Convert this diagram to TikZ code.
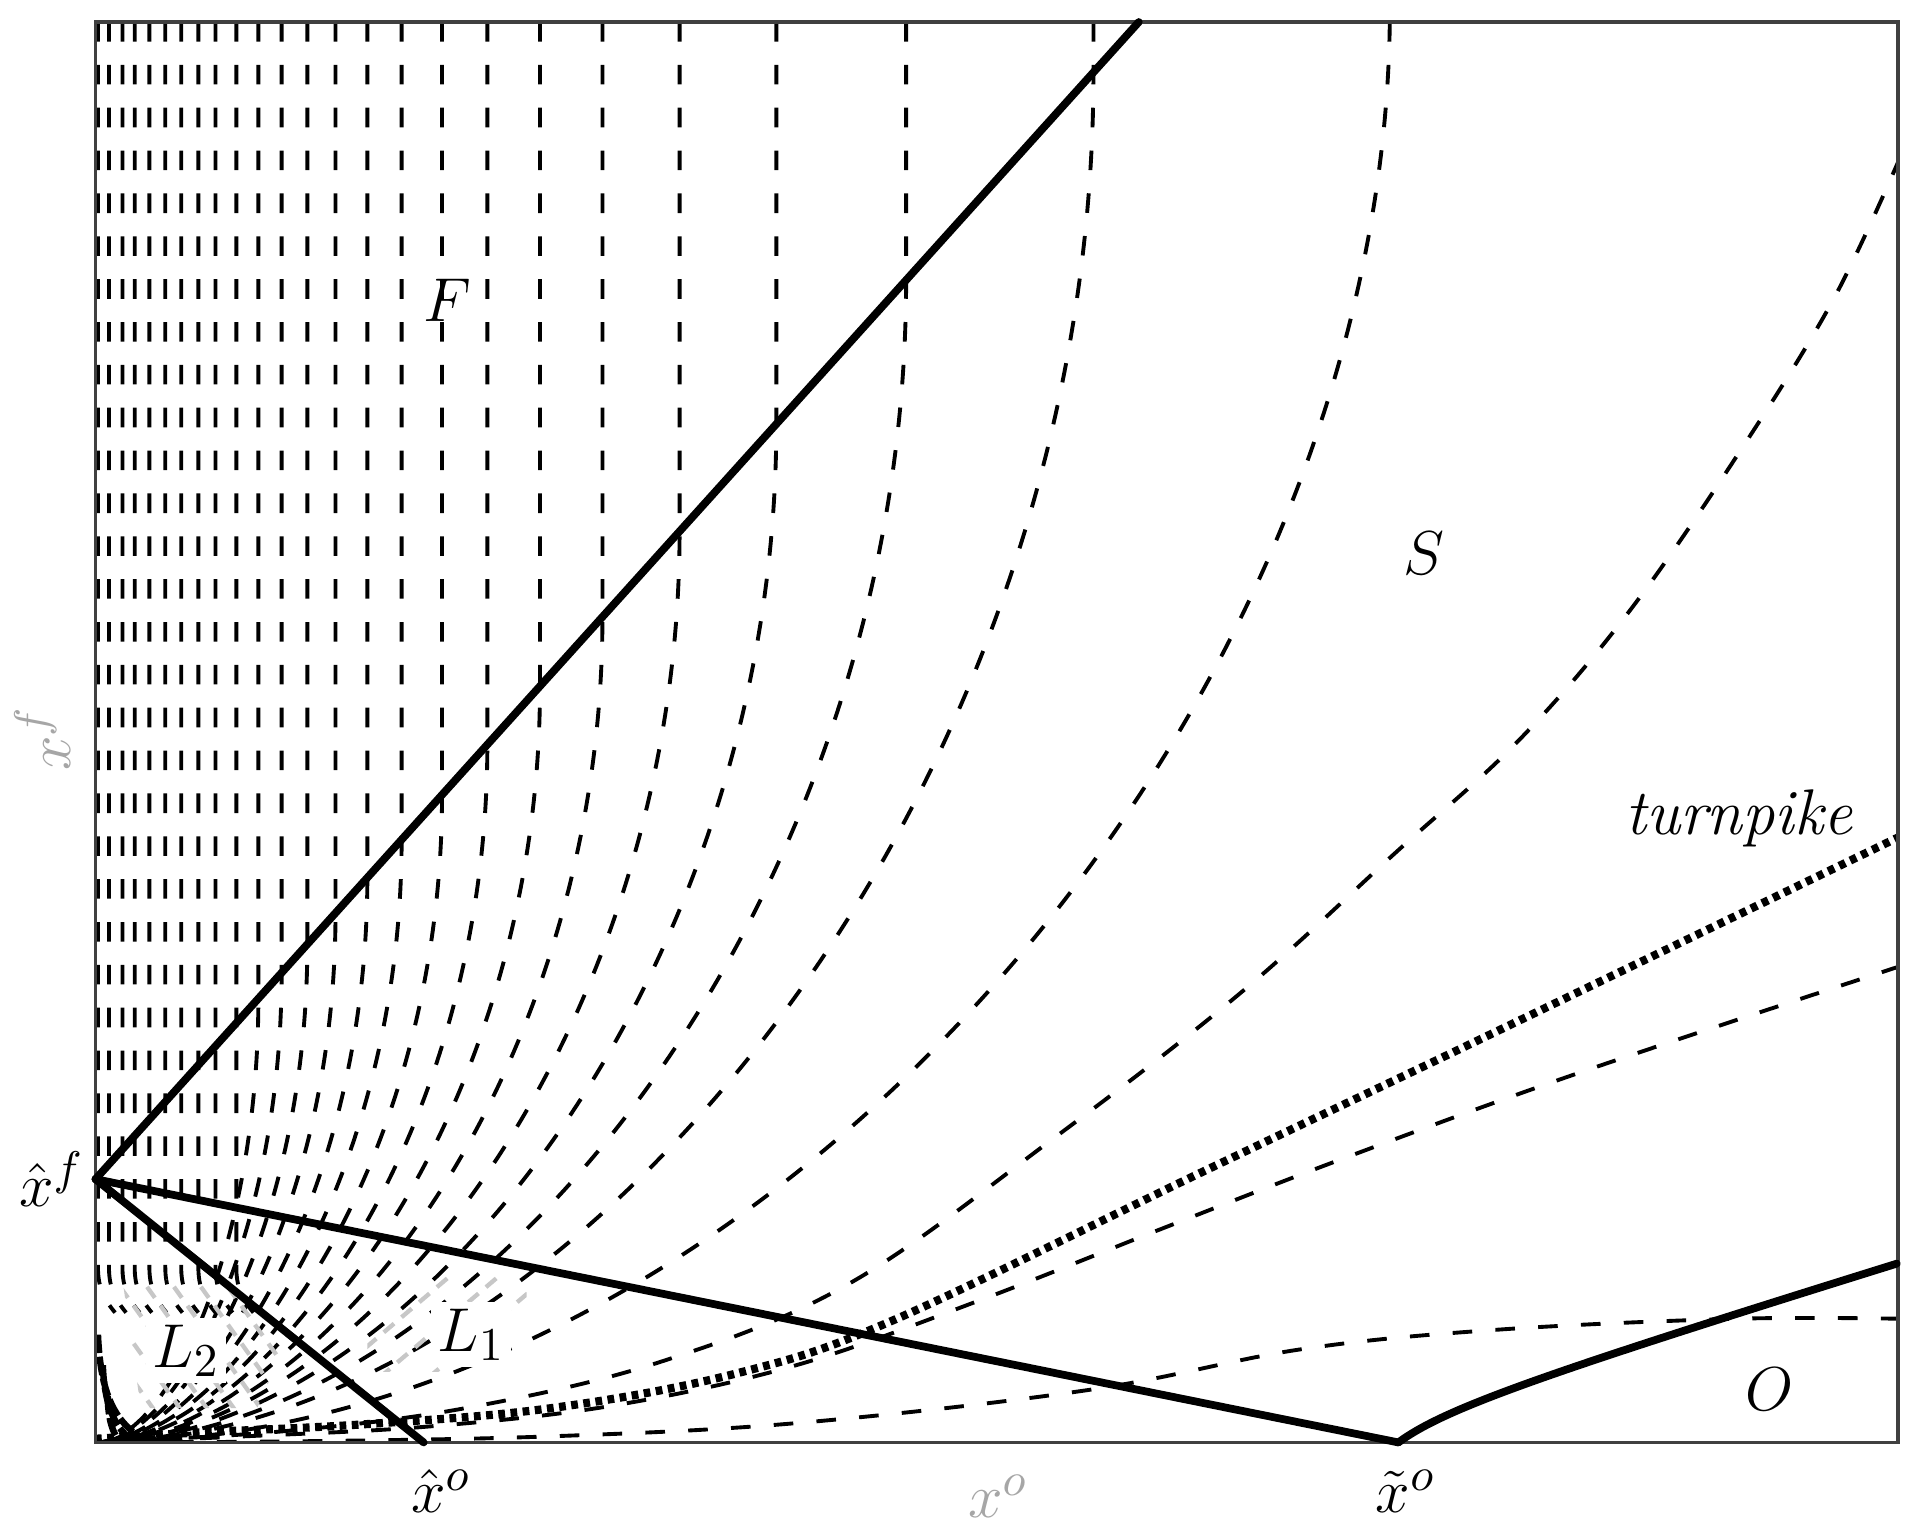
\documentclass[tikz,border=0pt]{standalone}
\usetikzlibrary{calc}
\begin{document}
\begin{tikzpicture}[x=0.1mm,y=-0.1mm,
  traj/.style={line width=0.9pt, dash pattern=on 1.6mm off 1.9mm},
  bound/.style={line width=1.8pt, line cap=round},
  tpk/.style={line width=1.9pt, dash pattern=on 0.55mm off 0.45mm},
  lbl/.style={font=\fontsize{15}{18}\selectfont, inner sep=0pt},
  axl/.style={text=black!35, font=\fontsize{15}{18}\selectfont, inner sep=0pt},
  gtraj/.style={draw=black!22, line width=1pt, dash pattern=on 1.1mm off 0.8mm},
  darc/.style={line width=1.5pt, dash pattern=on 1.5mm off 0.3mm},
  frame/.style={draw=black!75, line width=0.8pt}]
\useasboundingbox (0,0) rectangle (1568,1250);
\fill[white] (0,0) rectangle (1568,1250);
\begin{scope}
\clip (78,18) rectangle (1550,1178);
% trajectories near the x^f axis: vertical, bending slightly at the bottom
\foreach \X in {80,89,100,110,122,135,148,162,176,193}{
  \draw[traj] (\X,18) -- (\X,1035) .. controls (\X,1050) and (\X+4,1060) .. (\X+14,1072);
}
% trajectories that are vertical in F and bend towards the origin in S
\foreach \X in {211,230,251,274,300,328,361,398,441,492,555,634,740,893}{
  \pgfmathsetmacro{\yb}{963-(\X-78)*1.1092}
  \pgfmathsetmacro{\ca}{\yb+0.55*(1178-\yb)}
  \pgfmathsetmacro{\cb}{78+0.45*(\X-78)}
  \draw[traj] (\X,18) -- (\X,\yb) .. controls (\X,\ca) and (\cb,1178) .. (78,1178);
}
% trajectory reaching the top inside S
\draw[traj] (1135,18) .. controls (1128,598) and (606,1178) .. (78,1178);
% trajectories reaching the right edge
\draw[traj] plot[smooth, tension=0.6] coordinates {(1552,128) (1497,245) (1420,370) (1330,500) (1240,605) (1139,697) (1013,811) (860,930) (694,1048) (540,1112) (380,1150) (230,1169) (78,1178)};
\draw[tpk] plot[smooth, tension=0.6] coordinates {(1552,683) (1225,841) (980,958) (730,1078) (600,1122) (450,1150) (300,1163) (160,1170) (78,1175)};
\draw[traj] plot[smooth, tension=0.6] coordinates {(1552,789) (1290,876) (1100,945) (950,1003) (800,1062) (650,1115) (500,1148) (350,1165) (200,1173) (78,1178)};
\draw[traj] plot[smooth, tension=0.6] coordinates {(1552,1077) (1417,1077) (1222,1086) (1062,1102) (890,1135) (653,1162) (450,1173) (250,1177) (78,1178)};
% grey strokes in L2
\begin{scope}
\clip (100,1045) -- (185,1045) -- (230,1105) -- (210,1150) -- (115,1150) -- cycle;
\foreach \s in {-50,-28,...,110}{
  \draw[gtraj] (60+\s,1020) -- (160+\s,1160);
}
\end{scope}
% grey strokes in L1
\begin{scope}
\clip (300,1040) -- (430,1040) -- (430,1120) -- (300,1120) -- cycle;
\foreach \s in {0,40,80}{
  \draw[gtraj] (270+\s,1125) -- (370+\s,1040);
}
\end{scope}
% dark nested curved strokes near the origin
\draw[darc] (80,1090) .. controls (82,1135) and (92,1165) .. (124,1178);
\draw[darc] (84,1115) .. controls (85,1145) and (93,1168) .. (111,1178);
\draw[darc] (88,1140) .. controls (88,1158) and (92,1172) .. (99,1178);
\end{scope}
% frame
\draw[frame] (78,18) rectangle (1550,1178);
% boundaries
\coordinate (pHF) at (78,963);
\coordinate (pTop) at (930,18);
\coordinate (pHO) at (346,1178);
\coordinate (pTO) at (1142,1178);
\coordinate (pRE) at (1549,1032);
\draw[bound] (pHF) -- (pTop);
\draw[bound] (pHF) -- (pHO);
\draw[bound] (pHF) -- (pTO);
\draw[bound] (pTO) .. controls (1180,1150) and (1260,1122) .. (pRE);
% labels
\node[lbl] (F) at (365,245) {$F$};
\node[lbl] (S) at (1163,452) {$S$};
\node[lbl] (tp) at (1420,668) {\itshape turnpike};
\node[lbl] (O) at (1445,1135) {$O$};
\node[lbl, fill=white, inner sep=1.5pt] (L1) at (385,1090) {$L_1$};
\node[lbl, fill=white, inner sep=1.5pt] (L2) at (152,1103) {$L_2$};
\node[lbl] (xhf) at (42,963) {$\hat{x}^{f}$};
\node[lbl] (xho) at (360,1218) {$\hat{x}^{o}$};
\node[lbl] (xto) at (1148,1218) {$\tilde{x}^{o}$};
\node[axl] (xo) at (815,1222) {$x^o$};
\node[axl, rotate=90] (xf) at (35,603) {$x^f$};
\end{tikzpicture}
\end{document}
